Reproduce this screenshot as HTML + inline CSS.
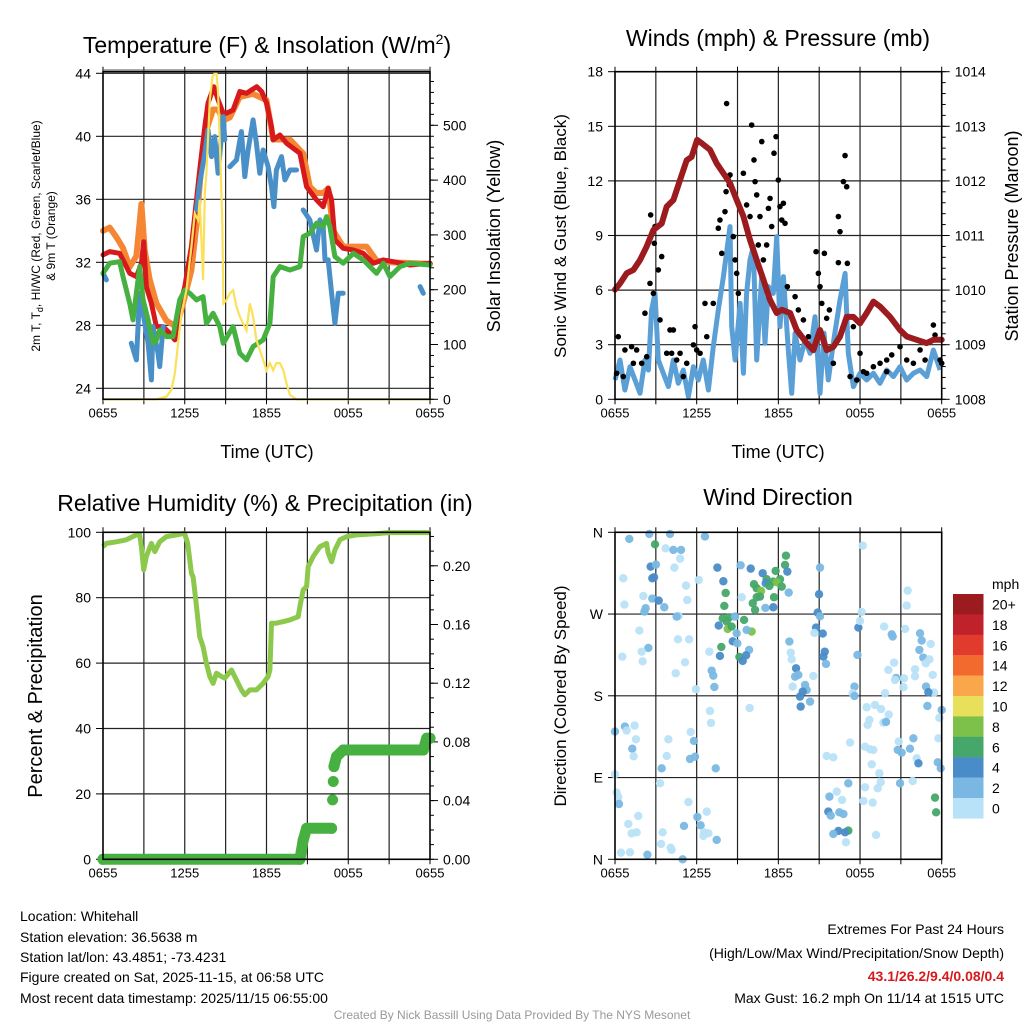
<!DOCTYPE html>
<html><head><meta charset="utf-8">
<style>
html,body{margin:0;padding:0;background:#fff;}
svg{display:block;font-family:"Liberation Sans",sans-serif;}
</style></head>
<body>
<svg id="fig" width="1024" height="1024" viewBox="0 0 1024 1024" xmlns="http://www.w3.org/2000/svg">
<g id="layer"></g>
<g font-size="14" fill="#000">
<text x="20" y="921">Location: Whitehall</text>
<text x="20" y="942">Station elevation: 36.5638 m</text>
<text x="20" y="962">Station lat/lon: 43.4851; -73.4231</text>
<text x="20" y="982">Figure created on Sat, 2025-11-15, at 06:58 UTC</text>
<text x="20" y="1003">Most recent data timestamp: 2025/11/15 06:55:00</text>
<text x="1004" y="934" text-anchor="end">Extremes For Past 24 Hours</text>
<text x="1004" y="958" text-anchor="end">(High/Low/Max Wind/Precipitation/Snow Depth)</text>
<text x="1004" y="981" text-anchor="end" fill="#d7191c" font-weight="bold">43.1/26.2/9.4/0.08/0.4</text>
<text x="1004" y="1003" text-anchor="end">Max Gust: 16.2 mph On 11/14 at 1515 UTC</text>
<text x="512" y="1019" text-anchor="middle" font-size="12" fill="#999">Created By Nick Bassill Using Data Provided By The NYS Mesonet</text>
</g>
</svg>
<script>
// ===== Data =====
const xTickLabels = ["0655","1255","1855","0055","0655"];
// Temperature panel (hours since 0655)
const redH = [0,0.49,1.22,1.47,1.96,2.45,2.82,2.99,3.18,3.55,3.92,4.41,4.9,5.27,5.51,6.0,6.49,6.86,7.1,7.47,7.71,8.13,8.45,8.82,9.06,9.55,10.04,10.53,10.9,11.28,11.65,12.0,12.37,12.49,12.98,13.47,14.45,14.94,15.67,16.16,16.53,16.78,17.02,17.63,18.37,19.1,19.84,20.57,21.31,22.53,24];
const redT = [32.47,32.68,32.57,32.15,31.3,31.09,31.94,33.31,30.46,29.4,27.92,27.92,27.49,27.07,28.76,30.46,33.0,35.96,37.86,40.61,42.1,43.15,42.31,41.46,41.46,41.67,42.84,42.73,42.94,43.15,42.84,42.1,40.61,39.77,40.08,39.56,38.92,36.8,35.96,35.53,36.7,35.96,33.42,32.89,32.78,32.57,31.94,32.15,32.04,31.83,31.94];
const orgH = [0,0.49,0.98,1.47,1.96,2.45,2.82,3.06,3.43,3.92,4.65,5.39,5.88,6.49,6.86,7.22,7.59,8.08,8.45,8.82,9.31,10.04,11.0,12.0,12.49,13.72,14.69,15.18,15.67,16.16,16.53,16.9,17.63,18.6,19.35,20.08,21.06,24];
const orgT = [34.0,34.2,33.6,32.9,31.7,32.4,35.7,32.8,30.9,29.4,28.3,27.9,29.4,31.5,34.4,38.2,40.4,41.7,41.7,41.0,41.2,42.5,42.7,42.3,39.8,39.8,38.9,36.8,36.4,36.4,36.7,34.0,33.0,33.0,33.0,32.1,32.0,31.9];
// Heat index / wind chill (null = gap)
const hiH = [0,0.25,null,2.08,2.45,2.69,2.94,3.31,3.55,3.67,4.04,4.16,4.41,null,6.86,7.1,7.47,7.71,7.96,8.2,8.45,8.82,8.94,null,9.31,9.8,10.16,10.41,10.65,11.02,11.26,11.51,11.75,12.12,12.37,12.54,12.73,13.1,13.35,13.72,14.21,null,14.69,15.18,15.67,15.92,16.16,16.29,16.53,16.78,17.02,17.27,17.63,null,23.27,23.51];
const hiT = [31.3,30.88,null,26.86,25.8,30.03,28.76,26.86,24.53,27.92,26.22,25.38,27.92,null,35.32,37.02,38.92,40.4,38.71,39.98,37.65,41.25,39.77,null,38.07,38.5,40.3,37.44,39.13,41.04,39.56,37.65,39.13,38.07,36.8,35.53,37.86,38.71,37.23,37.86,37.86,null,35.32,34.69,32.78,34.69,34.27,32.15,32.15,30.03,28.13,30.03,30.03,null,30.46,30.03];
const dewH = [0,0.49,1.22,1.47,1.96,2.2,2.69,2.94,3.31,3.67,3.92,4.16,4.65,5.14,5.63,6.0,6.37,6.86,7.35,7.59,8.08,8.57,8.82,9.55,10.04,10.53,11.02,11.75,12.25,12.49,12.98,13.72,14.45,14.69,15.18,15.67,16.16,16.41,16.65,17.02,17.63,18.37,19.1,20.08,20.57,21.06,21.8,22.53,24];
const dewT = [31.3,31.94,32.04,31.09,29.4,28.34,31.73,29.61,28.34,26.86,27.07,27.7,27.28,27.28,29.61,30.24,30.03,29.61,29.82,28.13,28.76,27.92,26.86,27.92,26.22,25.8,26.65,27.07,28.13,31.09,31.73,31.51,31.73,33.63,33.84,34.48,34.27,34.9,34.27,32.36,31.94,32.57,32.15,31.3,31.94,31.09,31.73,31.94,31.83];
const solH = [0,3.92,4.65,5.02,5.27,5.51,5.76,6.12,6.49,6.74,6.98,7.1,7.35,7.47,7.59,7.84,8.03,8.2,8.33,8.45,8.62,8.76,8.84,9.06,9.31,9.55,9.8,10.04,10.53,10.78,11.02,11.26,11.51,11.75,12.0,12.25,12.49,12.73,12.98,13.23,13.47,13.72,14.21,14.69,24];
const solW = [0,0,5,17,47,102,157,199,278,339,327,364,218,376,412,546,588,595,595,558,436,315,175,181,193,199,169,151,126,175,151,108,90,72,53,66,53,66,66,53,29,8,0,0,0];
// Wind panel
const windH = [0,0.37,0.73,1.1,1.47,1.84,2.2,2.45,2.69,2.94,3.18,3.55,3.92,4.29,4.65,5.02,5.39,5.76,6.12,6.49,6.86,7.22,7.59,7.96,8.45,8.57,8.82,9.19,9.43,9.67,9.92,10.16,10.41,10.78,11.02,11.27,11.63,11.88,12.12,12.37,12.73,12.98,13.23,13.59,13.96,14.33,14.69,15.06,15.35,15.67,16.04,16.53,16.9,17.14,17.51,18.0,18.49,18.98,19.47,19.96,20.45,20.94,21.43,21.92,22.41,22.9,23.39,23.88];
const windV = [1.06,2.16,0.51,1.79,1.06,0.33,2.16,1.61,4.91,5.82,2.16,1.43,0.7,2.16,0.88,1.61,0.15,1.79,1.06,2.16,0.51,2.89,4.91,6.74,9.49,3.99,2.16,5.27,1.43,5.82,7.66,8.39,2.16,6.74,3.08,6.19,5.82,8.94,3.99,6.74,2.71,0.33,3.63,2.16,3.26,2.53,4.54,0.33,3.63,1.06,3.08,5.46,6.92,2.53,0.7,1.43,1.06,1.43,0.88,1.61,1.25,1.79,1.06,1.43,1.61,1.25,2.71,1.61];
const gustH = [0.12,0.24,0.61,1.22,1.59,1.96,2.2,2.57,2.62,2.82,2.94,2.89,3.18,3.43,3.31,4.04,4.29,4.16,4.78,5.88,6.0,5.76,6.61,7.22,7.59,7.71,7.84,8.08,8.16,8.33,8.45,8.4,8.2,8.69,8.82,8.94,9.06,9.43,9.67,9.92,10.04,10.21,10.29,10.41,10.53,10.65,10.78,10.9,11.14,11.27,11.39,11.51,11.68,11.83,12.0,12.12,12.25,12.37,12.49,12.66,13.23,13.47,13.84,14.21,14.77,14.94,15.06,15.19,15.38,15.75,15.55,16.41,16.53,16.78,16.9,17.02,17.07,16.41,17.51,18.0,18.49,18.98,19.47,19.96,20.33,20.94,21.43,21.92,22.41,22.78,23.39,23.51,23.88,24.0,16.04,17.27,17.76,18.25,19.96,1.35,3.8,4.53,5.27,6.25,6.74,0.73,2.33,5.02];
const gustV = [1.43,3.44,1.25,2.89,2.71,1.98,4.73,6.37,10.13,5.82,9.49,8.57,7.11,7.84,4.36,3.81,3.81,2.53,2.53,3.99,2.71,2.99,5.27,5.27,9.4,9.85,8.02,10.31,11.41,12.23,12.33,11.78,16.25,8.94,7.66,6.92,5.82,12.42,10.68,10.04,15.07,13.15,11.96,11.23,8.48,10.04,14.16,7.66,8.48,10.49,11.04,9.49,13.52,14.43,12.05,10.59,9.85,10.77,9.67,6.19,5.64,4.91,4.36,3.44,8.11,6.92,6.19,5.27,8.02,4.91,4.45,10.04,9.21,11.96,13.39,11.68,7.47,7.51,3.99,2.53,1.43,1.79,1.98,2.16,2.44,2.89,2.16,1.98,2.71,2.16,4.08,3.53,2.16,1.98,1.98,1.25,1.06,1.52,1.52,1.98,2.53,2.16,1.98,2.53,3.44,2.71,2.34,1.25];
const presH = [0,0.37,0.86,1.35,1.84,2.33,2.82,3.43,3.8,4.29,4.78,5.27,5.63,6.03,6.37,6.98,7.47,7.96,8.45,8.94,9.43,9.92,10.41,10.9,11.39,11.88,12.25,12.86,13.35,14.08,14.57,15.06,15.55,16.04,16.53,17.02,17.51,18.0,18.49,18.98,19.47,20.21,20.94,21.43,22.16,22.9,23.39,24];
const presV = [1010.01,1010.12,1010.31,1010.37,1010.55,1010.8,1011.1,1011.22,1011.53,1011.65,1012.02,1012.38,1012.44,1012.75,1012.69,1012.57,1012.32,1012.14,1011.96,1011.65,1011.35,1010.92,1010.55,1010.19,1009.82,1009.58,1009.64,1009.58,1009.27,1009.03,1008.9,1009.27,1008.9,1008.96,1009.15,1009.51,1009.51,1009.39,1009.58,1009.79,1009.7,1009.51,1009.27,1009.15,1009.09,1009.03,1009.09,1009.09];
// RH / precip
const rhH = [0,0.24,0.98,1.71,2.45,2.69,2.82,2.99,3.18,3.55,3.8,4.16,4.65,5.39,5.98,6.22,6.49,6.61,6.86,7.1,7.35,7.59,7.84,8.08,8.33,8.69,8.94,9.43,9.8,10.16,10.41,10.78,11.26,11.75,12.12,12.25,12.37,12.73,13.23,13.72,14.33,14.45,14.69,14.94,15.06,15.43,15.92,16.41,16.53,16.78,17.02,17.39,17.88,18.61,19.84,21.06,24];
const rhV = [95.6,96.6,97.1,97.7,99.2,99.2,95.6,88.5,92.6,96.6,94.1,97.1,98.7,99.2,99.7,96.6,87.5,86.4,77.3,68.1,65.0,59.9,55.9,53.8,56.9,55.9,55.4,57.9,54.8,51.8,50.3,51.8,51.8,53.8,55.9,57.9,72.2,72.2,72.7,73.2,74.2,77.3,82.4,83.4,89.5,92.6,95.6,96.6,93.6,91.0,94.6,97.7,98.7,99.2,99.5,99.9,99.9];
const prH = [0,14.45,14.69,14.94,16.78,null,16.85,null,16.9,null,16.95,17.14,17.63,23.51,23.76,24];
const prV = [0,0,0.013,0.0211,0.0211,null,0.0405,null,0.053,null,0.0632,0.070,0.0745,0.0745,0.0825,0.0825];
// Wind direction scatter
const dirH = [1.05,2.52,4.04,6.61,2.94,3.72,4.29,4.85,4.78,2.62,3.01,4.36,2.74,2.87,0.61,5.22,6.15,2.08,2.74,3.21,5.31,0.69,2.25,2.16,3.62,4.68,4.53,1.79,4.63,5.44,2.45,1.96,0.54,2.03,5.14,4.46,5.95,7.52,7.96,8.13,8.03,9.31,9.23,9.97,10.85,11.14,11.63,12.12,12.56,12.49,12.66,11.8,10.21,10.41,10.73,10.65,10.41,11.68,11.05,11.63,10.29,10.12,12.76,11.88,11.07,12.25,11.34,7.91,8.4,8.2,8.82,9.48,7.62,8.28,8.57,10.04,9.67,8.94,8.65,8.99,7.81,9.85,7.71,9.14,9.38,9.63,7.1,7.22,7.3,6.93,6.98,7.05,9.89,15.06,14.99,14.89,15.06,14.77,15.26,14.65,12.81,12.91,12.98,13.3,13.23,13.47,14.57,13.05,13.96,14.08,13.79,13.59,14.33,13.64,15.41,15.31,15.5,17.81,17.88,18.0,18.12,18.2,17.59,17.46,17.59,19.84,19.77,20.33,20.4,20.5,20.08,20.65,20.57,21.23,21.19,21.31,21.5,21.43,22.36,22.53,22.41,23.19,22.65,22.83,23.1,22.04,22.04,23.34,22.85,23.44,23.02,18.49,19.1,19.54,20.11,18.69,18.56,19.72,19.91,24.0,23.83,22.95,17.27,18.37,18.74,18.98,18.86,19.42,19.52,20.84,20.77,21.06,21.67,21.92,22.16,22.29,23.76,23.71,23.93,20.94,21.87,19.3,18.37,18.25,18.93,19.18,15.55,16.04,17.14,16.29,15.75,16.68,15.67,15.85,16.48,16.78,17.14,16.41,16.04,16.9,16.97,23.51,23.59,0.0,0.73,0.86,1.44,1.54,1.27,1.37,0.0,0.12,0.24,0.29,1.71,0.98,1.22,1.59,0.44,1.1,2.38,3.43,3.31,3.92,3.8,5.56,5.8,5.88,5.51,7.4,5.39,6.74,6.05,6.29,5.07,6.54,6.86,6.49,7.47,3.5,3.38,4.09,4.16,4.97];
const dirD = [352.7,358.2,358.2,355.3,346.8,342.4,340.6,340.6,331.0,322.2,324.4,321.1,309.4,310.5,309.4,301.3,307.5,289.9,287.0,284.8,285.5,280.4,276.4,272.7,277.5,267.9,267.2,251.8,242.2,242.2,232.7,228.6,223.1,218.0,216.9,204.8,187.2,321.1,306.1,293.2,278.9,288.5,323.7,320.0,314.9,308.3,305.7,308.3,334.3,324.1,316.7,317.5,302.8,298.4,295.4,289.2,288.5,288.5,276.7,277.5,274.5,281.9,293.6,305.0,303.9,300.2,300.9,265.3,266.4,261.7,267.2,263.5,257.3,253.6,256.2,250.7,252.5,248.8,240.0,237.8,233.8,230.5,223.9,222.8,218.4,224.6,207.7,202.2,189.7,228.6,163.3,150.1,166.6,321.1,291.8,271.6,267.5,255.1,248.5,249.2,239.7,227.5,220.2,210.3,201.1,203.0,201.9,190.1,191.9,186.4,184.6,179.1,173.6,168.1,228.6,223.1,215.1,225.0,255.1,262.4,272.3,345.3,190.1,182.8,179.8,182.8,256.2,247.7,245.2,216.5,208.5,199.6,197.4,199.3,189.4,253.6,295.8,279.3,230.5,240.8,248.8,237.1,222.0,215.8,220.2,209.2,201.5,203.0,190.1,183.5,183.9,167.4,169.9,165.5,159.3,153.4,147.9,150.5,151.2,164.4,155.6,168.8,128.5,124.0,121.1,120.4,104.6,94.7,84.8,129.6,120.4,117.4,121.8,133.2,111.2,105.7,133.2,106.8,100.2,83.7,86.2,78.2,79.3,64.2,62.4,26.8,113.8,112.3,83.7,74.5,69.0,65.3,52.5,48.1,51.7,49.9,31.6,31.2,27.9,29.7,18.7,67.9,51.7,140.6,146.1,141.7,147.2,132.1,121.8,113.4,93.6,73.4,68.3,60.9,47.7,38.9,28.6,29.7,7.3,7.7,5.1,100.2,83.7,132.1,113.8,140.2,130.3,113.0,110.5,100.2,63.1,52.5,46.6,37.4,36.7,29.7,28.6,25.7,21.3,29.7,16.9,12.8,10.3,0];
const dirS = [3,3,3,3,7,1,3,3,1,5,3,1,5,5,1,1,1,1,3,5,1,1,3,3,3,1,3,1,1,1,3,1,1,1,1,1,1,5,5,7,7,1,3,5,5,7,7,7,7,7,5,7,7,7,9,7,7,7,3,5,7,7,3,9,5,7,7,7,7,7,3,7,5,9,7,9,3,3,5,3,7,3,5,7,5,5,3,3,3,1,1,1,1,3,5,5,3,5,5,1,3,1,1,5,3,3,1,1,3,3,5,5,3,5,5,5,3,3,5,1,1,1,3,1,3,1,1,3,3,1,1,3,1,1,1,1,1,1,3,3,3,1,3,1,1,1,1,1,3,1,5,1,1,1,1,1,1,1,3,3,1,3,1,1,1,1,1,1,1,1,3,3,3,3,1,5,1,3,3,3,1,1,1,1,1,1,1,1,3,1,3,1,5,3,3,3,7,5,3,5,1,7,7,3,3,1,1,1,3,1,1,1,1,3,1,1,1,1,1,1,3,3,1,1,1,1,3,3,3,3,1,1,3,3,3,1,1,1,3,1,1,1,1,3,3,5,3,3,3,1];
const legendLabels = ["20+","18","16","14","12","10","8","6","4","2","0"];
const legendColors = ["#9b1b1e","#c1212a","#e03b2d","#f26a2d","#f9a74a","#e8e05a","#7dc14a","#45a86a","#4a8cc8","#7ab8e3","#b8e2f7"];

// ===== Helpers =====
const NS="http://www.w3.org/2000/svg";
const root=document.getElementById('layer');
function mk(tag,attrs,parent){const e=document.createElementNS(NS,tag);for(const k in attrs)e.setAttribute(k,attrs[k]);(parent||root).appendChild(e);return e;}
function txt(s,attrs,parent){const e=mk('text',attrs,parent);e.textContent=s;return e;}
function lin(d0,d1,p0,p1){return v=>p0+(v-d0)*(p1-p0)/(d1-d0);}
function pathFrom(hs,vs,xs,ys){let d='',pen=false;for(let i=0;i<hs.length;i++){if(hs[i]===null||vs[i]===null){pen=false;continue;}d+=(pen?'L':'M')+xs(hs[i]).toFixed(1)+' '+ys(vs[i]).toFixed(1);pen=true;}return d;}

function frame(L,R,T,B,name){
  const g=mk('g',{});
  
  
  const xs=lin(0,24,L,R);
  for(let h=3;h<24;h+=3){const l=mk('line',{x1:xs(h),x2:xs(h),y1:T,y2:B,stroke:'#222','stroke-width':1.2},g);
    }
  for(let h=0;h<=24;h+=3){mk('line',{x1:xs(h),x2:xs(h),y1:B,y2:B+5,stroke:'#000','stroke-width':1},g);mk('line',{x1:xs(h),x2:xs(h),y1:T,y2:T-5,stroke:'#000','stroke-width':1},g);}
  xTickLabels.forEach((s,i)=>{const t=txt(s,{x:xs(i*6),y:B+18,'text-anchor':'middle','font-size':13},g);
    });
  return {g,xs};
}
function border(L,R,T,B,g){const r=mk('rect',{x:L,y:T,width:R-L,height:B-T,fill:'none',stroke:'#000','stroke-width':1.6},g);
  }
function hgrid(ys,vals,L,R,g,labels){
  vals.forEach((v,i)=>{const y=ys(v);const l=mk('line',{x1:L,x2:R,y1:y,y2:y,stroke:'#222','stroke-width':1.2},g);
    
    mk('line',{x1:L-7,x2:L,y1:y,y2:y,stroke:'#000'},g);
    const t=txt(labels[i],{x:L-12,y:y+5,'text-anchor':'end','font-size':14},g);
    });
}
function rightAxis(ys,vals,labels,R,g,minor){
  minor.forEach(v=>mk('line',{x1:R,x2:R+4,y1:ys(v),y2:ys(v),stroke:'#000'},g));
  vals.forEach((v,i)=>{mk('line',{x1:R,x2:R+8,y1:ys(v),y2:ys(v),stroke:'#000'},g);
    const t=txt(labels[i],{x:R+13,y:ys(v)+5,'font-size':14},g);
    });
}
function vtitle(s,x,y,size,g,name){const t=txt(s,{x:0,y:0,'text-anchor':'middle','font-size':size,transform:`translate(${x},${y}) rotate(-90)`},g);
  return t;}
function title(s,x,y,g,name){const t=txt(s,{x:x,y:y,'text-anchor':'middle','font-size':23},g);
  return t;}

// ===== Panel 1: Temperature =====
(function(){
  const L=103,R=430,T=71.7,B=399.3;
  const {g,xs}=frame(L,R,T,B,'temperature-panel');
  const ys=lin(24,44,388.3,73.3);
  const ysol=lin(0,500,B,125.3);
  const tv=[24,28,32,36,40,44];
  hgrid(ys,tv,L,R,g,tv.map(String));
  const minor=[];for(let w=0;w<=580;w+=20)minor.push(w);
  rightAxis(ysol,[0,100,200,300,400,500],["0","100","200","300","400","500"],R,g,minor);
  const c=mk('g',{},g);
  
  
  const series=[[orgH,orgT,'#f58634',6,'orange-9m-temp-line'],[redH,redT,'#d7191c',5,'red-2m-temp-line'],[hiH,hiT,'#4a90c8',5,'blue-heat-index-line'],[dewH,dewT,'#46b040',5,'green-dewpoint-line']];
  series.forEach(s=>{const p=mk('path',{d:pathFrom(s[0],s[1],xs,ys),fill:'none',stroke:s[2],'stroke-width':s[3],'stroke-linejoin':'round','stroke-linecap':'round'},c);
    });
  const sp=mk('path',{d:pathFrom(solH,solW,xs,ysol),fill:'none',stroke:'#fbe15a','stroke-width':2.2},c);
  
  
  border(L,R,T,B,g);
  mk('line',{x1:L,x2:R,y1:70,y2:70,stroke:'#555','stroke-width':1},g);
  const tt=txt('',{x:267,y:53,'text-anchor':'middle','font-size':23},g);
  
  tt.innerHTML='Temperature (F) &amp; Insolation (W/m<tspan dy="-9" font-size="14">2</tspan><tspan dy="9">)</tspan>';
  const yl=txt('',{x:0,y:0,'text-anchor':'middle','font-size':12,transform:'translate(40,236) rotate(-90)'},g);
  
  yl.innerHTML='2m T, T<tspan dy="3" font-size="9">d</tspan><tspan dy="-3">, HI/WC (Red, Green, Scarlet/Blue)</tspan>';
  vtitle('& 9m T (Orange)',55,236,12,g,'temperature-y-title-line2');
  vtitle('Solar Insolation (Yellow)',500,236,18,g,'insolation-y-title');
  const xt=txt('Time (UTC)',{x:267,y:458,'text-anchor':'middle','font-size':18},g);
  
})();

// ===== Panel 2: Winds =====
(function(){
  const L=615,R=941.7,T=71.7,B=399.3;
  const {g,xs}=frame(L,R,T,B,'winds-panel');
  const ys=lin(0,18,B,T);
  const yp=lin(1008,1014,B,T);
  const tv=[0,3,6,9,12,15,18];
  hgrid(ys,tv,L,R,g,tv.map(String));
  const minor=[];for(let m=1008;m<=1014.001;m+=0.2)minor.push(m);
  rightAxis(yp,[1008,1009,1010,1011,1012,1013,1014],["1008","1009","1010","1011","1012","1013","1014"],R,g,minor);
  const c=mk('g',{},g);
  
  
  const wp=mk('path',{d:pathFrom(windH,windV,xs,ys),fill:'none',stroke:'#5a9fd6','stroke-width':5,'stroke-linejoin':'round'},c);
  
  gustH.forEach((h,i)=>{const d=mk('circle',{cx:xs(h),cy:ys(gustV[i]),r:2.8,fill:'#000'},c);
    });
  const pp=mk('path',{d:pathFrom(presH,presV,xs,yp),fill:'none',stroke:'#9b1b1e','stroke-width':6,'stroke-linejoin':'round','stroke-linecap':'round'},c);
  
  border(L,R,T,B,g);
  title('Winds (mph) & Pressure (mb)',778,46,g,'winds-title');
  vtitle('Sonic Wind & Gust (Blue, Black)',566,236,17,g,'wind-y-title');
  vtitle('Station Pressure (Maroon)',1018,236,18,g,'pressure-y-title');
  const xt=txt('Time (UTC)',{x:778,y:458,'text-anchor':'middle','font-size':18},g);
  
})();

// ===== Panel 3: RH / Precip =====
(function(){
  const L=103,R=430,T=532.3,B=859.3;
  const {g,xs}=frame(L,R,T,B,'humidity-panel');
  const ys=lin(0,100,B,T);
  const ypr=lin(0,0.04,B,B-58.7);
  const tv=[0,20,40,60,80,100];
  hgrid(ys,tv,L,R,g,tv.map(String));
  const minor=[];for(let p=0;p<=0.225;p+=0.01)minor.push(p);
  rightAxis(ypr,[0,0.04,0.08,0.12,0.16,0.20],["0.00","0.04","0.08","0.12","0.16","0.20"],R,g,minor);
  const c=mk('g',{},g);
  
  
  const rp=mk('path',{d:pathFrom(rhH,rhV,xs,ys),fill:'none',stroke:'#8cc84b','stroke-width':5,'stroke-linejoin':'round'},c);
  
  const pp=mk('path',{d:pathFrom(prH,prV,xs,ypr),fill:'none',stroke:'#46b040','stroke-width':11,'stroke-linejoin':'round','stroke-linecap':'round'},c);
  
  prH.forEach((h,i)=>{if(h===null)return;const d=mk('circle',{cx:xs(h),cy:ypr(prV[i]),r:5.5,fill:'#46b040'},c);
    });
  border(L,R,T,B,g);
  title('Relative Humidity (%) & Precipitation (in)',265,511,g,'humidity-title');
  vtitle('Percent & Precipitation',42,696,20,g,'humidity-y-title');
})();

// ===== Panel 4: Wind direction =====
(function(){
  const L=615,R=941.7,T=532.3,B=859.3;
  const {g,xs}=frame(L,R,T,B,'wind-direction-panel');
  const ys=lin(0,360,B,T);
  hgrid(ys,[0,90,180,270,360],L,R,g,["N","E","S","W","N"]);
  const c=mk('g',{},g);
  
  
  function col(s){const idx=Math.min(10,Math.floor(s/2));return legendColors[10-idx];}
  dirH.forEach((h,i)=>{const d=mk('circle',{cx:xs(h),cy:ys(dirD[i]),r:4.2,fill:col(dirS[i]),'fill-opacity':0.95},c);
    });
  border(L,R,T,B,g);
  title('Wind Direction',778,505,g,'wind-direction-title');
  vtitle('Direction (Colored By Speed)',566,696,17,g,'direction-y-title');
  const lg=mk('g',{},g);
  
  
  const mt=txt('mph',{x:992,y:589,'font-size':14},lg);
  
  legendLabels.forEach((s,i)=>{const y=594+i*20.4;
    const r=mk('rect',{x:953,y:y,width:30.5,height:20.6,fill:legendColors[i]},lg);
    
    const t=txt(s,{x:992,y:y+15.5,'font-size':14},lg);
    });
})();
</script>
</body></html>
